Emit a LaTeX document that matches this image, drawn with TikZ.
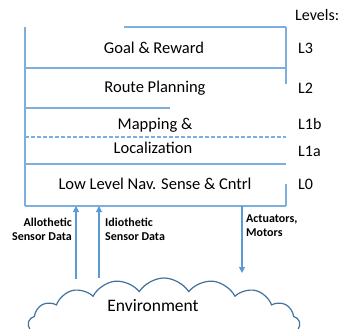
\documentclass[tikz,border=0pt]{standalone}
\usepackage{fontspec}
\setmainfont{Carlito}
\usetikzlibrary{shapes.symbols,arrows.meta}
\definecolor{layerblue}{HTML}{5B9BD5}
\definecolor{cloudblue}{HTML}{41719C}
\tikzset{
  layerline/.style={draw=layerblue!80, line width=1.1pt},
  layertext/.style={font=\fontsize{16.5}{18}\selectfont, anchor=center, inner sep=0pt},
  leveltext/.style={font=\fontsize{16}{18}\selectfont, anchor=west, inner sep=0pt},
  sigtext/.style={font=\fontsize{12}{14}\selectfont\bfseries, inner sep=0pt, align=left},
  signal/.style={draw=layerblue, line width=1.1pt, -{Triangle[length=6pt,width=6pt]}},
}
\begin{document}
\begin{tikzpicture}[x=1pt,y=-1pt]
\useasboundingbox (0,0) rectangle (343,329);
\clip (0,0) rectangle (343,329);

% layer stack outline
\draw[layerline] (124,27) -- (286,27);
\draw[layerline] (25,27) -- (25,206);
\draw[layerline] (286,27) -- (286,84);
\draw[layerline] (286,184) -- (286,206);
\draw[layerline] (25,68) -- (286,68);
\draw[layerline] (25,108) -- (170,108);
\draw[layerline, dashed, dash pattern=on 4pt off 2pt] (25,137) -- (286,137);
\draw[layerline] (25,164) -- (286,164);
\draw[layerline] (25,206) -- (286,206);

% layer names
\node[layertext] (goal) at (154,48) {Goal \& Reward};
\node[layertext] (route) at (155,88) {Route Planning};
\node[layertext] (mapping) at (155,125) {Mapping \&};
\node[layertext] (local) at (153,148) {Localization};
\node[layertext] (low) at (155,184) {Low Level Nav. Sense \& Cntrl};

% level column
\node[leveltext] (levels) at (295,15) {Levels:};
\node[leveltext] (l3) at (298,48) {L3};
\node[leveltext] (l2) at (298,88) {L2};
\node[leveltext] (l1b) at (298,124) {L1b};
\node[leveltext] (l1a) at (298,151) {L1a};
\node[leveltext] (l0) at (298,184) {L0};

% environment
\node[cloud, cloud puffs=17, cloud puff arc=115, aspect=3.2,
      draw=cloudblue, line width=1.2pt, fill=white,
      minimum width=272pt, minimum height=96pt] (env) at (164,326) {};
\node[font=\fontsize{17.5}{19}\selectfont, inner sep=0pt] (envtext) at (153,306) {Environment};

% signal end points on the stack
\coordinate (alloTop) at (76,206);
\coordinate (idioTop) at (99,206);
\coordinate (actTop) at (242,206);
\coordinate (alloBot) at (76,279);
\coordinate (idioBot) at (99,278);
\coordinate (actBot) at (242,273);

\draw[signal] (alloBot) -- (alloTop);
\draw[signal] (idioBot) -- (idioTop);
\draw[signal] (actTop) -- (actBot);

\node[sigtext, align=right, anchor=north east] (allo) at (72,218) {Allothetic\\Sensor Data};
\node[sigtext, anchor=north west] (idio) at (105,218) {Idiothetic\\Sensor Data};
\node[sigtext, anchor=north west] (act) at (246,215) {Actuators,\\Motors};
\end{tikzpicture}
\end{document}
